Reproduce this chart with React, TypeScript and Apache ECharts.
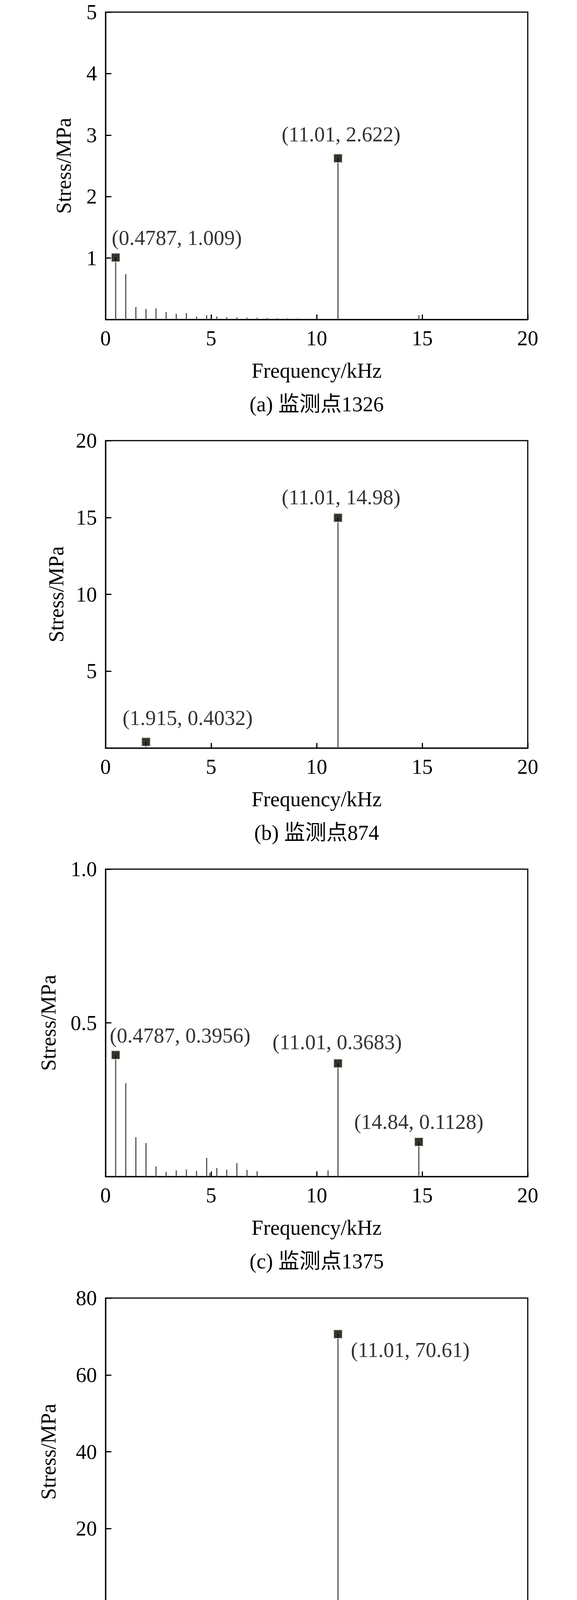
import React, { useEffect, useRef } from 'react';
import * as echarts from 'echarts';

// (a) monitoring point 1326
const freqA = [0.4787, 0.957, 1.436, 1.915, 2.39, 2.87, 3.35, 3.83, 4.31, 4.79, 5.27, 5.74, 6.22, 6.7, 7.18, 7.66, 8.14, 8.62, 9.1, 9.58, 11.01, 14.84];
const stressA = [1.009, 0.738, 0.203, 0.172, 0.181, 0.123, 0.092, 0.105, 0.048, 0.07, 0.048, 0.04, 0.035, 0.03, 0.028, 0.025, 0.022, 0.02, 0.018, 0.016, 2.622, 0.07];
const peaksA = [[0.4787, 1.009], [11.01, 2.622]];

// (b) monitoring point 874
const freqB = [1.915, 11.01];
const stressB = [0.4032, 14.98];
const peaksB = [[1.915, 0.4032], [11.01, 14.98]];

// (c) monitoring point 1375
const freqC = [0.4787, 0.957, 1.436, 1.915, 2.39, 2.87, 3.35, 3.83, 4.31, 4.79, 4.94, 5.27, 5.74, 6.22, 6.7, 7.18, 10.54, 11.01, 14.84];
const stressC = [0.3956, 0.304, 0.128, 0.109, 0.033, 0.015, 0.02, 0.0225, 0.018, 0.061, 0.011, 0.028, 0.0225, 0.044, 0.0216, 0.0174, 0.02, 0.3683, 0.1128];
const peaksC = [[0.4787, 0.3956], [11.01, 0.3683], [14.84, 0.1128]];

// (d), (e) monitoring point 1585
const freqD = [11.01];
const stressD = [70.61];
const peaksD = [[11.01, 70.61]];
const freqE = [11.01];
const stressE = [66.68];
const peaksE = [[11.01, 66.68]];

const xTicks = { min: 0, max: 20, interval: 5 };
const captions = [
  '(a) 监测点1326',
  '(b) 监测点874',
  '(c) 监测点1375',
  '(d) 监测点1585(第15阶模态应力方向)',
  '(e) 监测点1585(第16阶模态应力方向)',
];

const FONT = "'Liberation Serif', 'Noto Sans CJK SC', serif";
const FS = 54;
const GRID_TOP = 31;
const GRID_H = 787;

type LabelPos = { position: string; align?: string; offset: number[] };
type Panel = {
  height: number;
  freq: number[];
  stress: number[];
  peaks: number[][];
  ymax: number;
  step: number;
  nameGap: number;
  digits: number;
  labels: LabelPos[];
  caption: string;
};

const panels: Panel[] = [
  {
    height: 1097, freq: freqA, stress: stressA, peaks: peaksA, ymax: 5, step: 1, nameGap: 80, digits: 0,
    labels: [
      { position: 'top', align: 'left', offset: [-10, -6] },
      { position: 'top', offset: [8, -17] },
    ],
    caption: captions[0],
  },
  {
    height: 1097, freq: freqB, stress: stressB, peaks: peaksB, ymax: 20, step: 5, nameGap: 99, digits: 0,
    labels: [
      { position: 'top', align: 'left', offset: [-60, -17] },
      { position: 'top', offset: [8, -9] },
    ],
    caption: captions[1],
  },
  {
    height: 1098, freq: freqC, stress: stressC, peaks: peaksC, ymax: 1, step: 0.5, nameGap: 119, digits: 1,
    labels: [
      { position: 'top', align: 'left', offset: [-15, -6] },
      { position: 'top', offset: [-2, -10] },
      { position: 'top', offset: [0, -7] },
    ],
    caption: captions[2],
  },
  {
    height: 1083, freq: freqD, stress: stressD, peaks: peaksD, ymax: 80, step: 20, nameGap: 119, digits: 0,
    labels: [{ position: 'right', offset: [16, 41] }],
    caption: captions[3],
  },
  {
    height: 1071, freq: freqE, stress: stressE, peaks: peaksE, ymax: 80, step: 20, nameGap: 119, digits: 0,
    labels: [{ position: 'right', offset: [16, -1] }],
    caption: captions[4],
  },
];

const textStyle = { fontFamily: FONT, fontSize: FS, color: '#000' };

const SpectrumPanel: React.FC<{ p: Panel }> = ({ p }) => {
  const chartRef = useRef<HTMLDivElement>(null);

  useEffect(() => {
    const chart = echarts.init(chartRef.current!, undefined, { renderer: 'svg' });

    chart.setOption({
      animation: false,
      backgroundColor: '#fff',
      grid: {
        left: 270,
        width: 1080,
        top: GRID_TOP,
        height: GRID_H,
        show: true,
        borderColor: '#000',
        borderWidth: 3,
      },
      xAxis: {
        type: 'value',
        ...xTicks,
        name: 'Frequency/kHz',
        nameLocation: 'middle',
        nameGap: 104,
        nameTextStyle: textStyle,
        axisLine: { lineStyle: { color: '#000', width: 3 } },
        axisTick: { inside: true, length: 13, lineStyle: { color: '#000', width: 3 } },
        axisLabel: { ...textStyle, margin: 21 },
        splitLine: { show: false },
      },
      yAxis: {
        type: 'value',
        min: 0,
        max: p.ymax,
        interval: p.step,
        name: 'Stress/MPa',
        nameLocation: 'middle',
        nameGap: p.nameGap,
        nameTextStyle: textStyle,
        axisLine: { lineStyle: { color: '#000', width: 3 } },
        axisTick: { inside: true, length: 15, lineStyle: { color: '#000', width: 3 } },
        axisLabel: {
          ...textStyle,
          margin: 22,
          showMinLabel: false,
          formatter: (v: number) => v.toFixed(p.digits),
        },
        splitLine: { show: false },
      },
      series: [
        {
          type: 'bar',
          barWidth: 3,
          itemStyle: { color: '#555' },
          data: p.freq.map((f, k) => [f, p.stress[k]]),
          z: 2,
        },
        {
          type: 'scatter',
          symbol: 'rect',
          symbolSize: 22,
          itemStyle: { color: '#000', borderColor: '#f4eec4', borderWidth: 2 },
          label: { show: true, ...textStyle, distance: 5 },
          data: p.peaks.map((pt, k) => ({
            value: pt,
            label: {
              show: true,
              formatter: `(${pt[0]}, ${pt[1]})`,
              ...p.labels[k],
            },
          })),
          z: 3,
        },
      ],
      graphic: [
        {
          type: 'text',
          x: 810,
          y: GRID_TOP + GRID_H + 217,
          style: {
            text: p.caption,
            fontFamily: FONT,
            fontSize: FS,
            fill: '#000',
            align: 'center',
            verticalAlign: 'middle',
          },
        },
      ],
    });

    return () => {
      chart.dispose();
    };
  }, [p]);

  return <div ref={chartRef} style={{ width: '1476px', height: `${p.height}px` }} />;
};

const App: React.FC = () => (
  <div style={{ width: '1476px', height: '5446px', margin: '-8px 0 0 -8px', background: '#fff' }}>
    {panels.map((p, i) => (
      <SpectrumPanel key={i} p={p} />
    ))}
  </div>
);

export default App;
